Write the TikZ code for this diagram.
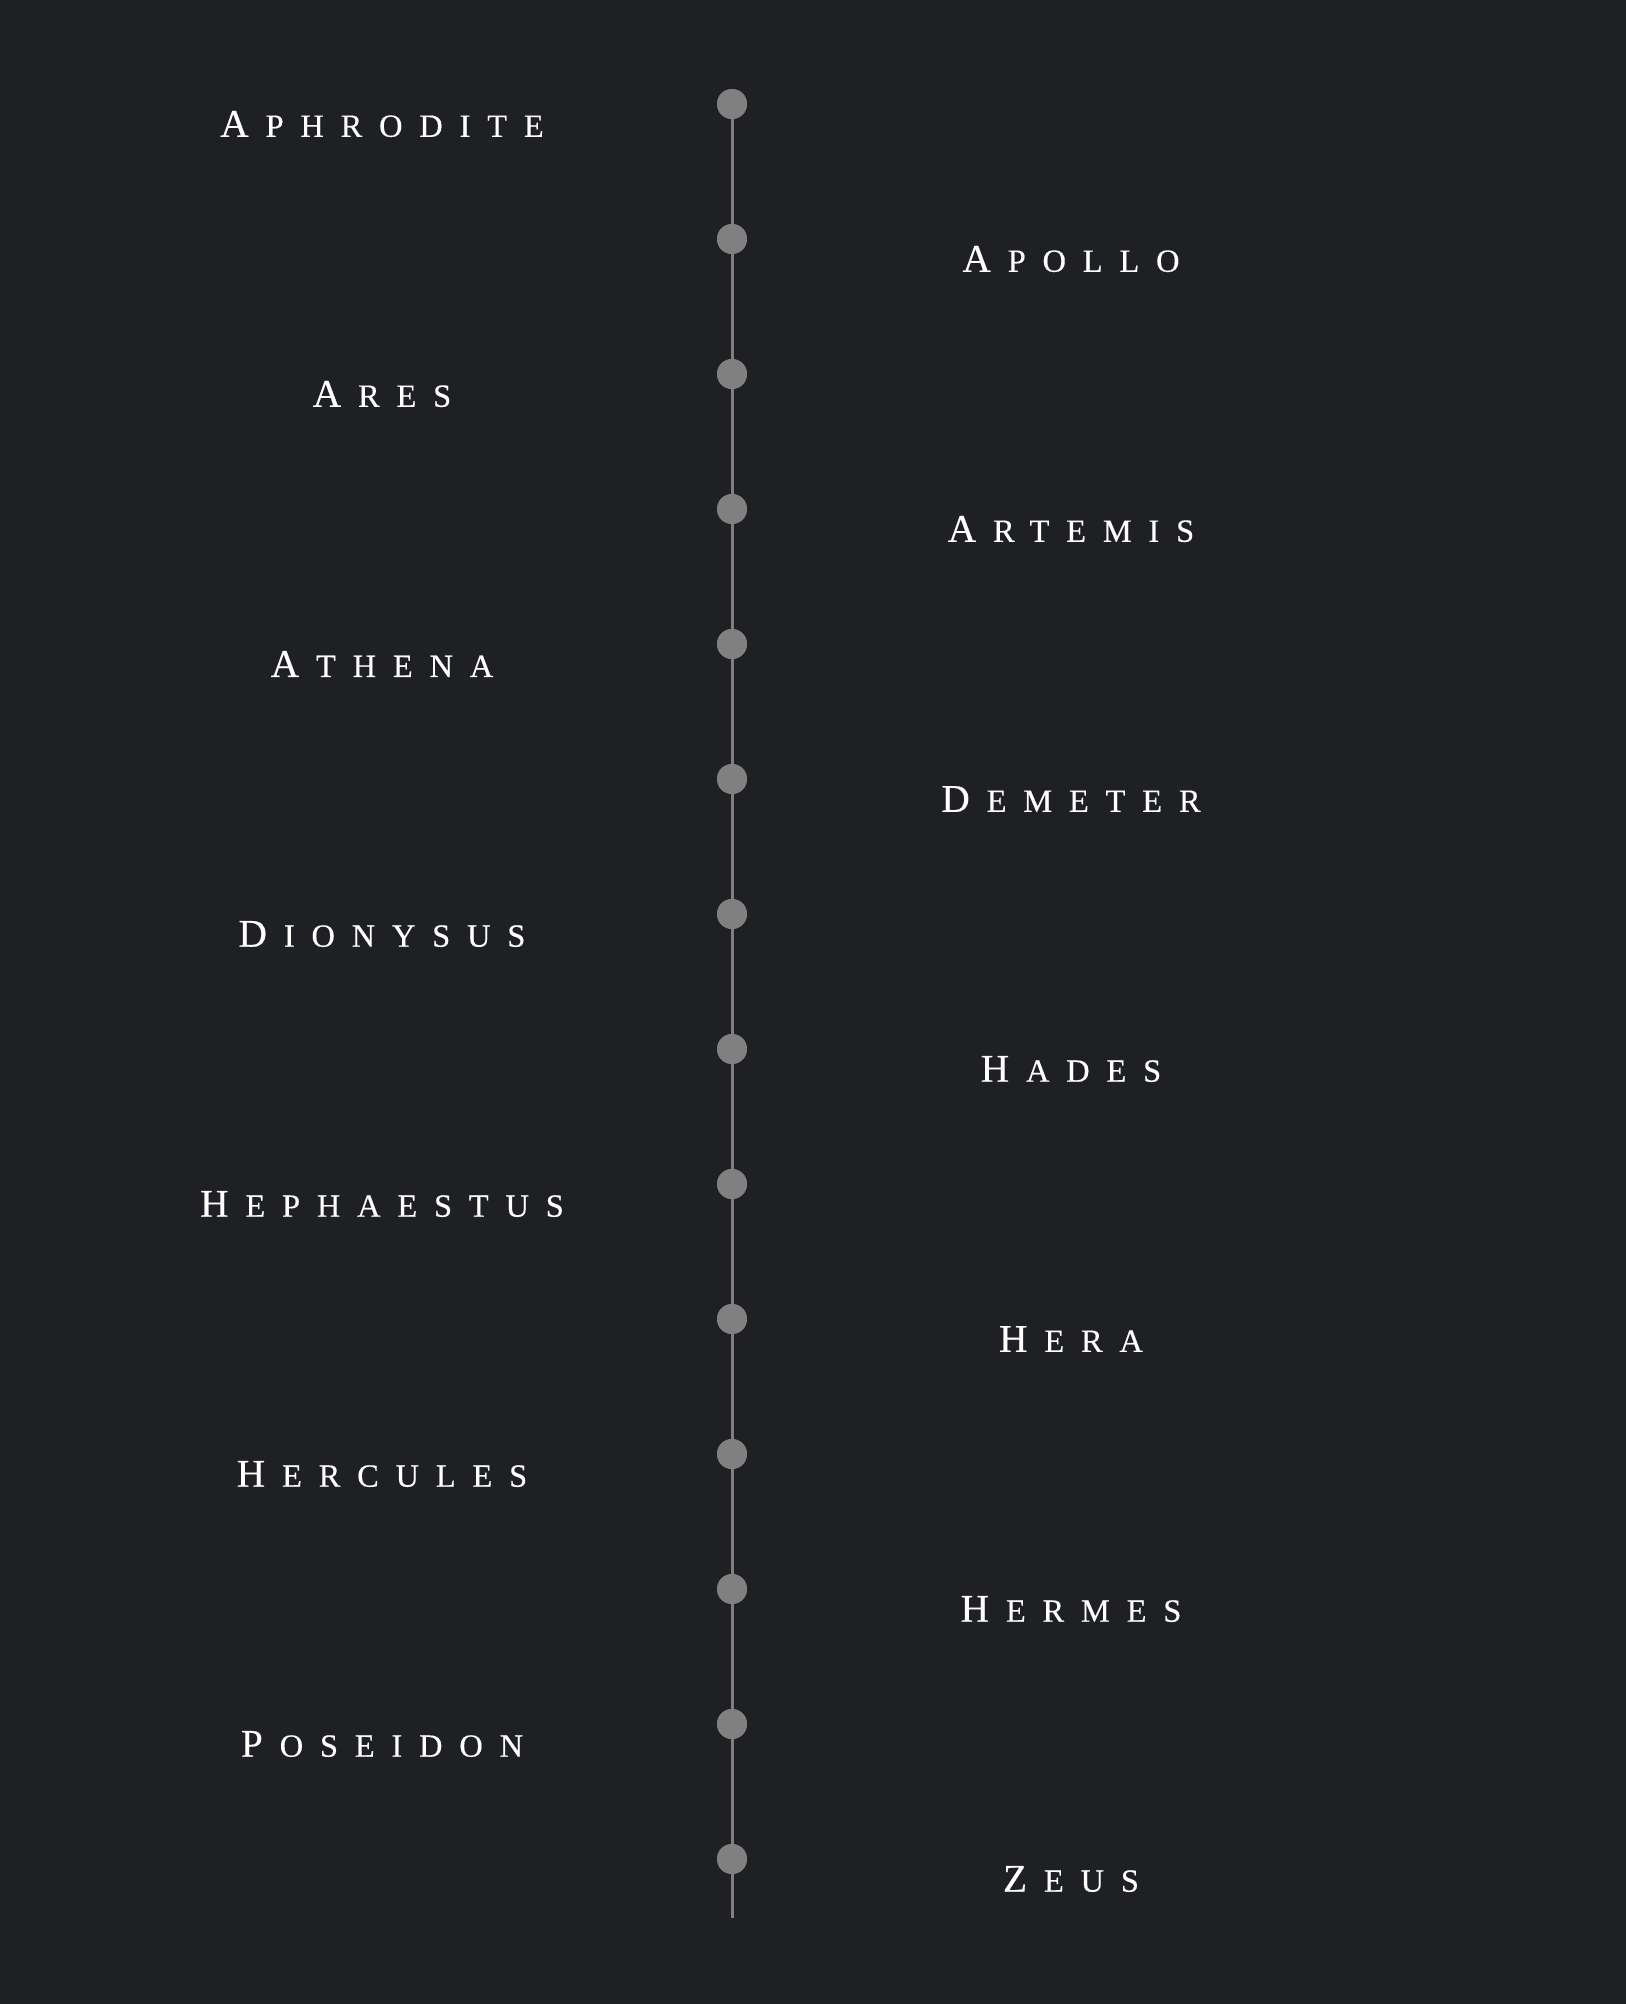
\documentclass[tikz,border=0pt]{standalone}
\usepackage{fontspec}
\setmainfont{Liberation Serif}
\newfontfamily\godfont{Liberation Serif}[LetterSpace=52,FakeBold=0.4]
\usetikzlibrary{positioning}
\definecolor{bgcolor}{HTML}{1F2023}
\definecolor{dotcolor}{HTML}{808080}
\newcommand{\godname}[2]{{\fontsize{19.6}{24}\selectfont #1}\kern8.5pt{\fontsize{16.2}{19}\selectfont #2}}

\begin{document}
\begin{tikzpicture}[x=0.5pt,y=-0.5pt,
    dot/.style={circle,fill=dotcolor,minimum size=15pt,inner sep=0pt},
    godlabel/.style={text=white,font=\godfont,inner sep=0pt}]
  \fill[bgcolor] (0,0) rectangle (1626,2004);
  \coordinate (lineend) at (732,1918);
  \foreach \i/\a/\b in {0/A/PHRODITE,1/A/POLLO,2/A/RES,3/A/RTEMIS,4/A/THENA,
                        5/D/EMETER,6/D/IONYSUS,7/H/ADES,8/H/EPHAESTUS,9/H/ERA,
                        10/H/ERCULES,11/H/ERMES,12/P/OSEIDON,13/Z/EUS} {
    \pgfmathsetmacro{\lx}{isodd(\i) ? 1071 : 382}
    \node[dot] (dot\i) at (732,104+135*\i) {};
    \node[godlabel] (god\i) at (\lx,124+135*\i) {\godname{\a}{\b}};
  }
  \draw[dotcolor,line width=1.5pt] (dot0.center) -- (lineend);
  \foreach \i in {0,...,13} {
    \fill[dotcolor] (dot\i) circle[radius=15];
  }
\end{tikzpicture}
\end{document}
